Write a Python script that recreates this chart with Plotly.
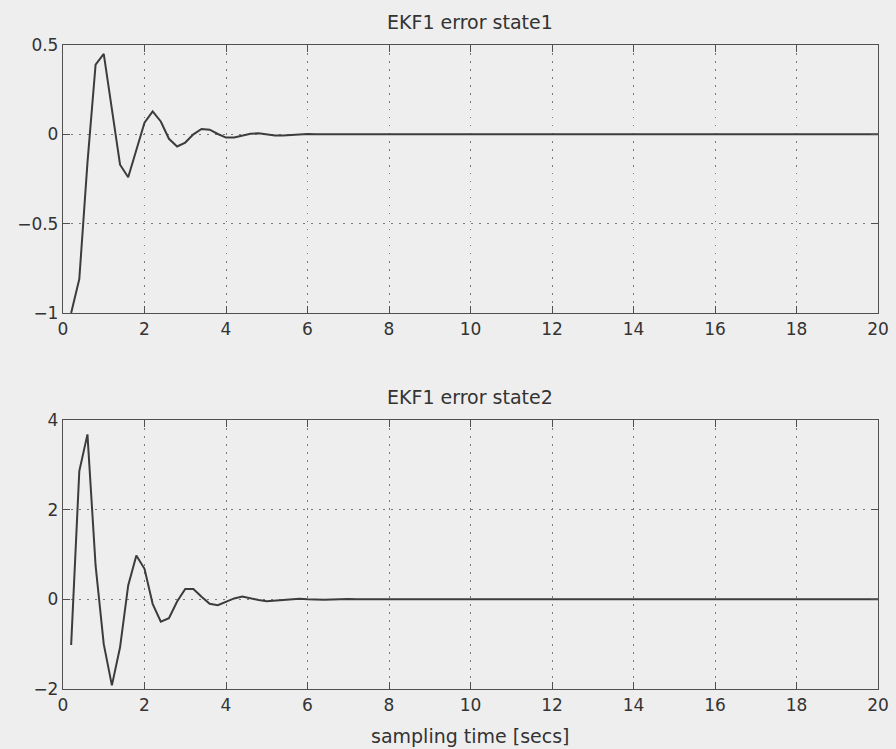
import plotly.graph_objects as go

# Sampling instants (s)
t = [round(0.2 * k, 1) for k in range(1, 101)]

# EKF1 estimation error, state 1
state1 = [
    -1.0, -0.81, -0.16, 0.39, 0.45, 0.14, -0.17, -0.24, -0.083, 0.065,
    0.128, 0.072, -0.025, -0.068, -0.046, 0.0, 0.03, 0.026, 0.002, -0.018,
    -0.018, -0.006, 0.003, 0.006, 0.0, -0.006, -0.006, -0.002, 0.002, 0.002,
    0.0, -0.001, -0.001, 0.0, 0.001, 0.001, 0.0, 0.0, -0.001, 0.0,
    0.0, 0.0, 0.0, 0.0, 0.0, 0.0, 0.0, 0.0, 0.0, 0.0,
    0.0, 0.0, 0.0, 0.0, 0.0, 0.0, 0.0, 0.0, 0.0, 0.0,
    0.0, 0.0, 0.0, 0.0, 0.0, 0.0, 0.0, 0.0, 0.0, 0.0,
    0.0, 0.0, 0.0, 0.0, 0.0, 0.0, 0.0, 0.0, 0.0, 0.0,
    0.0, 0.0, 0.0, 0.0, 0.0, 0.0, 0.0, 0.0, 0.0, 0.0,
    0.0, 0.0, 0.0, 0.0, 0.0, 0.0, 0.0, 0.0, 0.0, 0.0,
]

# EKF1 estimation error, state 2
state2 = [
    -1.02, 2.86, 3.68, 0.75, -1.0, -1.92, -1.07, 0.31, 0.98, 0.68,
    -0.10, -0.50, -0.42, -0.05, 0.23, 0.23, 0.06, -0.10, -0.13, -0.06,
    0.02, 0.06, 0.02, -0.015, -0.04, -0.025, 0.0, 0.015, 0.015, 0.0,
    -0.012, -0.012, -0.004, 0.004, 0.006, 0.002, -0.003, -0.003, 0.0, 0.002,
    0.001, 0.0, -0.001, 0.0, 0.0, 0.0, 0.0, 0.0, 0.0, 0.0,
    0.0, 0.0, 0.0, 0.0, 0.0, 0.0, 0.0, 0.0, 0.0, 0.0,
    0.0, 0.0, 0.0, 0.0, 0.0, 0.0, 0.0, 0.0, 0.0, 0.0,
    0.0, 0.0, 0.0, 0.0, 0.0, 0.0, 0.0, 0.0, 0.0, 0.0,
    0.0, 0.0, 0.0, 0.0, 0.0, 0.0, 0.0, 0.0, 0.0, 0.0,
    0.0, 0.0, 0.0, 0.0, 0.0, 0.0, 0.0, 0.0, 0.0, 0.0,
]

titles = ["EKF1 error state1", "EKF1 error state2"]
xlabel = "sampling time [secs]"

W, H = 896, 749
BG = "#eeeeee"
INK = "#3c3c3c"
FONT = "DejaVu Sans"

fig = go.Figure()
fig.add_trace(go.Scatter(x=t, y=state1, mode="lines", xaxis="x", yaxis="y",
                         line=dict(color=INK, width=2), showlegend=False))
fig.add_trace(go.Scatter(x=t, y=state2, mode="lines", xaxis="x2", yaxis="y2",
                         line=dict(color=INK, width=2), showlegend=False))

axis_style = dict(
    automargin=False,
    showline=True, linecolor="#505050", linewidth=1.3, mirror="ticks",
    ticks="inside", ticklen=7, tickwidth=1.3, tickcolor="#505050",
    showgrid=True, gridcolor="#7a7a7a", griddash="1.5px,6.5px", gridwidth=1.3,
    zeroline=False, tickfont=dict(family=FONT, size=17, color="#333333"),
)

xdom = [63 / W, 878 / W]
fig.update_layout(
    width=W, height=H,
    paper_bgcolor=BG, plot_bgcolor=BG,
    margin=dict(l=0, r=0, t=0, b=0, autoexpand=False),
    xaxis=dict(axis_style, domain=xdom, range=[0, 20], tick0=0, dtick=2, anchor="y"),
    yaxis=dict(axis_style, domain=[(H - 313) / H, (H - 45) / H], range=[-1, 0.5],
               tick0=0, dtick=0.5, anchor="x"),
    xaxis2=dict(axis_style, domain=xdom, range=[0, 20], tick0=0, dtick=2, anchor="y2"),
    yaxis2=dict(axis_style, domain=[(H - 689) / H, (H - 420) / H], range=[-2, 4],
                tick0=0, dtick=2, anchor="x2"),
    annotations=[
        dict(text=titles[0], x=470.5 / W, y=(H - 22) / H, xref="paper", yref="paper",
             showarrow=False, xanchor="center", yanchor="middle",
             font=dict(family=FONT, size=19, color="#333333")),
        dict(text=titles[1], x=470.5 / W, y=(H - 397) / H, xref="paper", yref="paper",
             showarrow=False, xanchor="center", yanchor="middle",
             font=dict(family=FONT, size=19, color="#333333")),
        dict(text=xlabel, x=470.5 / W, y=(H - 736) / H, xref="paper", yref="paper",
             showarrow=False, xanchor="center", yanchor="middle",
             font=dict(family=FONT, size=19, color="#333333")),
    ],
)

fig.write_html("out.html")
